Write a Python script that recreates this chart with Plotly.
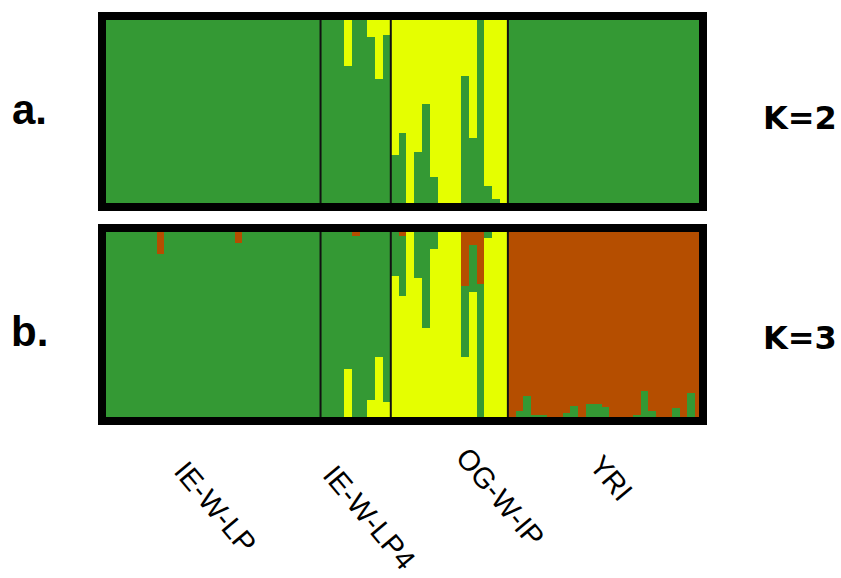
import plotly.graph_objects as go

# ---- data ----
groups = ["IE-W-LP", "IE-W-LP4", "OG-W-IP", "YRI"]
group_sizes = [28, 9, 15, 25]

# K=2 : green (bottom) / yellow (top)
k2_yellow_lp = [0.0] * 28
k2_yellow_lp4 = [0.0, 0.0, 0.0, 0.26, 0.0, 0.015, 0.11, 0.33, 0.10]
k2_green_og = [0.27, 0.385, 0.0, 0.29, 0.54, 0.155, 0.0, 0.0, 0.005, 0.684, 0.36, 0.98, 0.11, 0.04, 0.0]
k2_yellow_yri = [0.0] * 25

# K=3 : yellow (bottom) / green / red (top)
k3_red_lp = [0.005, 0.02, 0.005, 0.015, 0.005, 0.005, 0.005, 0.135, 0.005, 0.005,
             0.02, 0.005, 0.02, 0.005, 0.02, 0.005, 0.02, 0.078, 0.0, 0.0,
             0.0, 0.0, 0.004, 0.004, 0.004, 0.0, 0.0, 0.0]
k3_yellow_lp4 = [0.0, 0.0, 0.0, 0.27, 0.0, 0.0, 0.11, 0.33, 0.10]
k3_red_lp4 = [0.0, 0.02, 0.0, 0.0, 0.04, 0.0, 0.0, 0.0, 0.0]
k3_yellow_og = [0.75, 0.65, 1.0, 0.74, 0.48, 0.89, 0.99, 1.0, 1.0, 0.33, 0.67, 0.02, 0.95, 0.99, 1.0]
k3_red_og = [0.0, 0.04, 0.0, 0.0, 0.0, 0.0, 0.01, 0.0, 0.0, 0.30, 0.09, 0.29, 0.0, 0.0, 0.0]
k3_green_yri = [0.0, 0.054, 0.13, 0.033, 0.033, 0.013, 0.004, 0.04, 0.08, 0.013,
                0.09, 0.09, 0.072, 0.004, 0.0, 0.013, 0.033, 0.157, 0.054, 0.004,
                0.004, 0.067, 0.018, 0.145, 0.004]

GREEN = "#349934"
YELLOW = "#E5FF00"
RED = "#B54E00"

# assemble per-individual series
k2_yellow = k2_yellow_lp + k2_yellow_lp4 + [round(1 - g, 4) for g in k2_green_og] + k2_yellow_yri
k2_green = [round(1 - y, 4) for y in k2_yellow]

k3_yellow = [0.0] * 28 + k3_yellow_lp4 + k3_yellow_og + [0.0] * 25
k3_red = k3_red_lp + k3_red_lp4 + k3_red_og + [round(1 - g, 4) for g in k3_green_yri]
k3_green = [round(1 - y - r, 4) for y, r in zip(k3_yellow, k3_red)]

n = sum(group_sizes)
xs = list(range(n))

fig = go.Figure()
common = dict(width=1.0, marker_line_width=0, hoverinfo="skip", showlegend=False)
fig.add_trace(go.Bar(x=xs, y=k2_green, marker_color=GREEN, xaxis="x", yaxis="y", **common))
fig.add_trace(go.Bar(x=xs, y=k2_yellow, marker_color=YELLOW, xaxis="x", yaxis="y", **common))
fig.add_trace(go.Bar(x=xs, y=k3_yellow, marker_color=YELLOW, xaxis="x2", yaxis="y2", **common))
fig.add_trace(go.Bar(x=xs, y=k3_green, marker_color=GREEN, xaxis="x2", yaxis="y2", **common))
fig.add_trace(go.Bar(x=xs, y=k3_red, marker_color=RED, xaxis="x2", yaxis="y2", **common))

W, H = 841, 578
xdom = [102 / W, 703 / W]
ydom_a = [1 - 207 / H, 1 - 16 / H]
ydom_b = [1 - 421 / H, 1 - 228 / H]

ax = dict(visible=False, range=[-0.5, n - 0.5], fixedrange=True)
ay = dict(visible=False, range=[0, 1], fixedrange=True)
fig.update_layout(
    width=W, height=H,
    margin=dict(l=0, r=0, t=0, b=0),
    paper_bgcolor="white", plot_bgcolor="white",
    barmode="stack", bargap=0,
    xaxis=dict(domain=xdom, anchor="y", **ax),
    yaxis=dict(domain=ydom_a, anchor="x", **ay),
    xaxis2=dict(domain=xdom, anchor="y2", **ax),
    yaxis2=dict(domain=ydom_b, anchor="x2", **ay),
)

shapes = []
# group separators
bounds = []
acc = 0
for s in group_sizes[:-1]:
    acc += s
    bounds.append(acc - 0.5)
for xr, yr in (("x", "y domain"), ("x2", "y2 domain")):
    for b in bounds:
        shapes.append(dict(type="line", xref=xr, yref=yr, x0=b, x1=b, y0=0, y1=1,
                           line=dict(color="#111111", width=2)))
# thick frames
for xr, yr in (("x domain", "y domain"), ("x2 domain", "y2 domain")):
    shapes.append(dict(type="rect", xref=xr, yref=yr, x0=0, x1=1, y0=0, y1=1,
                       line=dict(color="black", width=8), fillcolor="rgba(0,0,0,0)"))
fig.update_layout(shapes=shapes)

ann = []
def px(x, y):
    return x / W, 1 - y / H

for txt, (cx, cy) in (("a.", (29, 109)), ("b.", (29, 331))):
    x, y = px(cx, cy)
    ann.append(dict(text=f"<b>{txt}</b>", x=x, y=y, xref="paper", yref="paper",
                    showarrow=False, xanchor="center", yanchor="middle",
                    font=dict(family="Liberation Sans, Arial", size=42, color="black")))
for txt, (cx, cy) in (("K=2", (800, 118)), ("K=3", (800, 338))):
    x, y = px(cx, cy)
    ann.append(dict(text=f"<b>{txt}</b>", x=x, y=y, xref="paper", yref="paper",
                    showarrow=False, xanchor="center", yanchor="middle",
                    font=dict(family="DejaVu Sans, Arial", size=32, color="black")))
label_pos = [(215, 507), (369, 517), (500, 497), (611, 478)]
for txt, (cx, cy) in zip(groups, label_pos):
    x, y = px(cx, cy)
    ann.append(dict(text=txt, x=x, y=y, xref="paper", yref="paper", showarrow=False,
                    xanchor="center", yanchor="middle", textangle=50,
                    font=dict(family="Liberation Sans, Arial", size=29, color="black")))
fig.update_layout(annotations=ann)

fig.write_html("out.html", config={"displayModeBar": False, "staticPlot": True})

# remove default page margin so the figure fills the window exactly
with open("out.html", "r", encoding="utf-8") as f:
    html = f.read()
html = html.replace("<head>", "<head><style>html,body{margin:0;padding:0;overflow:hidden;}</style>", 1)
with open("out.html", "w", encoding="utf-8") as f:
    f.write(html)
